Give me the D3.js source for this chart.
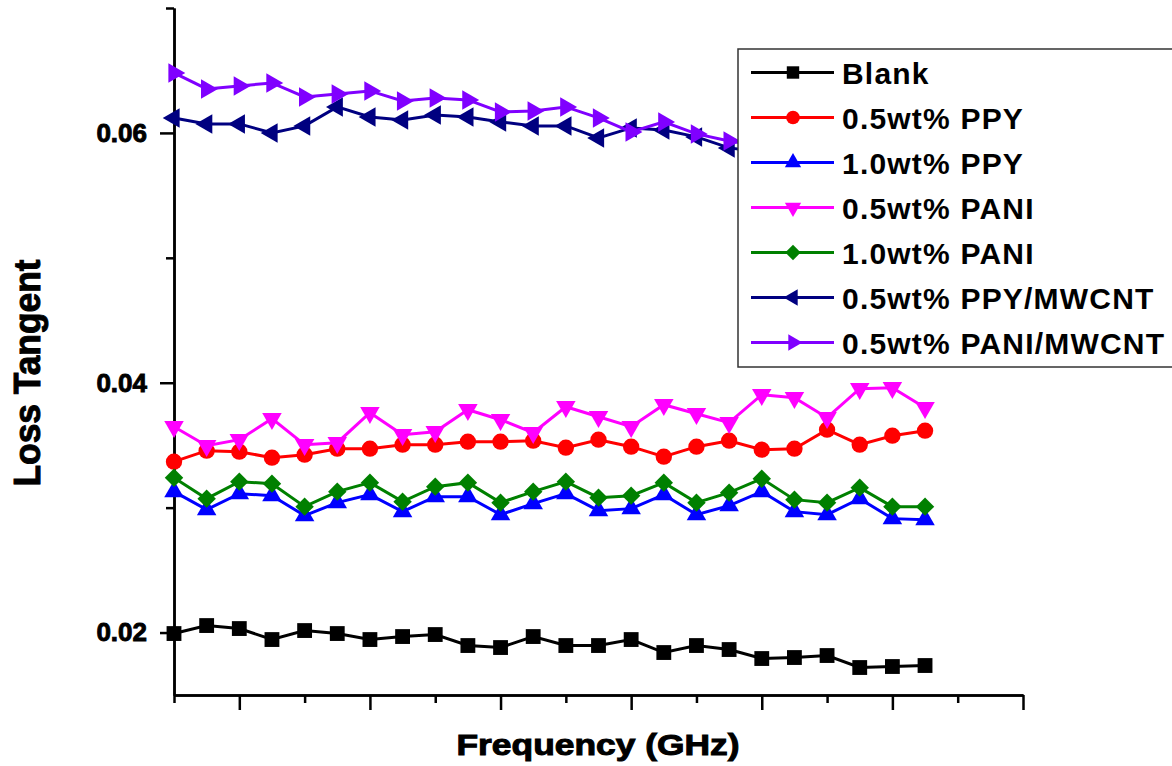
<!DOCTYPE html>
<html>
<head>
<meta charset="utf-8">
<script src="https://cdn.jsdelivr.net/npm/d3@7"></script>
<style>
  body { margin: 0; background: #fff; }
  text { font-family: 'Liberation Sans', Arial, sans-serif; font-weight: bold; }
</style>
</head>
<body>
<div id="chart"></div>
<script>
// frequency points (GHz, axis has no labels)
const freqs = [7.75, 7.875, 8.0, 8.125, 8.25, 8.375, 8.5, 8.625, 8.75, 8.875, 9.0, 9.125,
  9.25, 9.375, 9.5, 9.625, 9.75, 9.875, 10.0, 10.125, 10.25, 10.375, 10.5, 10.625]

const seriesNames = ['Blank', '0.5wt% PPY', '1.0wt% PPY', '0.5wt% PANI', '1.0wt% PANI',
  '0.5wt% PPY/MWCNT', '0.5wt% PANI/MWCNT']

const blank = [0.01992, 0.02056, 0.02032, 0.01944, 0.02016, 0.01992, 0.01944, 0.01968,
  0.01984, 0.01896, 0.0188, 0.01968, 0.01896, 0.01896, 0.01944, 0.0184, 0.01896, 0.01864,
  0.01792, 0.018, 0.01816, 0.0172, 0.01728, 0.01736]

const ppy05 = [0.03368, 0.03456, 0.03448, 0.034, 0.03424, 0.03472, 0.03472, 0.03504,
  0.03504, 0.03528, 0.03528, 0.03536, 0.0348, 0.03544, 0.03488, 0.03408, 0.03488, 0.03536,
  0.03464, 0.03472, 0.03624, 0.03504, 0.03576, 0.03616]

const ppy10 = [0.03128, 0.02984, 0.03112, 0.03096, 0.02936, 0.0304, 0.03104, 0.02968,
  0.03088, 0.03088, 0.02944, 0.03032, 0.03112, 0.02976, 0.02992, 0.03104, 0.02944, 0.03016,
  0.03128, 0.02968, 0.02944, 0.03072, 0.02912, 0.02904]

const pani05 = [0.03648, 0.03496, 0.03544, 0.03712, 0.03504, 0.0352, 0.0376, 0.03584,
  0.03608, 0.03784, 0.03704, 0.036, 0.03808, 0.03728, 0.03648, 0.03824, 0.03752, 0.0368,
  0.03904, 0.0388, 0.0372, 0.03952, 0.0396, 0.038]

const pani10 = [0.0324, 0.03072, 0.03208, 0.03192, 0.03008, 0.03128, 0.032, 0.03048,
  0.03168, 0.032, 0.0304, 0.03128, 0.03208, 0.0308, 0.03096, 0.032, 0.0304, 0.0312,
  0.03232, 0.03064, 0.0304, 0.0316, 0.03008, 0.03008]

// last points of the two MWCNT series sit behind the legend box
const ppyMwcnt = [0.0612, 0.06072, 0.06072, 0.06, 0.06056, 0.06208, 0.06128, 0.06104,
  0.06144, 0.06128, 0.06088, 0.06056, 0.06056, 0.0596, 0.0604, 0.06024, 0.05968, 0.0588,
  0.05848, 0.05824, 0.058, 0.05784, 0.05768, 0.05744]

const paniMwcnt = [0.0648, 0.06352, 0.06376, 0.064, 0.06288, 0.06312, 0.06336, 0.06256,
  0.0628, 0.06264, 0.06168, 0.06176, 0.06208, 0.0612, 0.06008, 0.06088, 0.05992, 0.05936,
  0.05896, 0.05864, 0.0584, 0.05816, 0.05792, 0.05768]

const yMajor = [0.02, 0.04, 0.06]
const yMinor = [0.03, 0.05, 0.07]
const xMajor = [8.0, 8.5, 9.0, 9.5, 10.0, 10.5, 11.0]
const xMinor = [7.75, 8.25, 8.75, 9.25, 9.75, 10.25, 10.75]

const allSeries = [blank, ppy05, ppy10, pani05, pani10, ppyMwcnt, paniMwcnt]
const colors = ['#000000', '#ff0000', '#0000ff', '#ff00ff', '#008000', '#000080', '#8000ff']
// symbol type, rotation, area
const markers = [
  { type: d3.symbolSquare, rot: 0, size: 220 },
  { type: d3.symbolCircle, rot: 0, size: 210 },
  { type: d3.symbolTriangle, rot: 0, size: 165 },
  { type: d3.symbolTriangle, rot: 180, size: 165 },
  { type: d3.symbolSquare, rot: 45, size: 170 },
  { type: d3.symbolTriangle, rot: -90, size: 165 },
  { type: d3.symbolTriangle, rot: 90, size: 165 }
]

const width = 1172
const height = 766

const svg = d3
  .select('#chart')
  .append('svg')
  .attr('width', width)
  .attr('height', height)

const xScale = d3.scaleLinear().domain([7.75, 11.0]).range([174, 1023])
const yScale = d3.scaleLinear().domain([0.015, 0.07]).range([695, 8])

// axes
function styleAxis(g) {
  g.select('.domain').attr('stroke', '#000').attr('stroke-width', 2.5)
  g.selectAll('.tick line').attr('stroke', '#000').attr('stroke-width', 2.5)
}

svg
  .append('g')
  .attr('transform', 'translate(0,695)')
  .call(d3.axisBottom(xScale).tickValues(xMinor).tickSize(8).tickSizeOuter(0).tickFormat(''))
  .call(styleAxis)

svg
  .append('g')
  .attr('transform', 'translate(0,695)')
  .call(d3.axisBottom(xScale).tickValues(xMajor).tickSize(15).tickSizeOuter(0).tickFormat(''))
  .call(styleAxis)

svg
  .append('g')
  .attr('transform', 'translate(174,0)')
  .call(d3.axisLeft(yScale).tickValues(yMinor).tickSize(8).tickSizeOuter(0).tickFormat(''))
  .call(styleAxis)

const yAxis = svg
  .append('g')
  .attr('transform', 'translate(174,0)')
  .call(d3.axisLeft(yScale).tickValues(yMajor).tickSize(14).tickSizeOuter(0).tickPadding(13).tickFormat(d3.format('.2f')))
  .call(styleAxis)

yAxis
  .selectAll('.tick text')
  .attr('fill', '#000')
  .attr('stroke', '#000')
  .attr('stroke-width', 0.9)
  .attr('font-size', 26)
  .attr('font-family', "'Liberation Sans', Arial, sans-serif")
  .attr('font-weight', 'bold')

// axis titles
svg
  .append('text')
  .text('Frequency (GHz)')
  .attr('x', 598)
  .attr('y', 755)
  .attr('text-anchor', 'middle')
  .attr('font-size', 30)
  .attr('stroke', '#000')
  .attr('stroke-width', 1)
  .attr('textLength', 283)
  .attr('lengthAdjust', 'spacingAndGlyphs')

svg
  .append('text')
  .text('Loss Tangent')
  .attr('transform', 'translate(40,373) rotate(-90)')
  .attr('text-anchor', 'middle')
  .attr('font-size', 37)
  .attr('stroke', '#000')
  .attr('stroke-width', 1)
  .attr('textLength', 227)
  .attr('lengthAdjust', 'spacingAndGlyphs')

// series
const line = d3
  .line()
  .x((d, i) => xScale(freqs[i]))
  .y(d => yScale(d))

allSeries.forEach(function(values, k) {
  const g = svg.append('g')

  g.append('path')
    .datum(values)
    .attr('d', line)
    .attr('fill', 'none')
    .attr('stroke', colors[k])
    .attr('stroke-width', 3)

  g.selectAll('path.marker')
    .data(values)
    .enter()
    .append('path')
    .attr('class', 'marker')
    .attr('d', d3.symbol().type(markers[k].type).size(markers[k].size))
    .attr('transform', function(d, i) {
      return `translate(${xScale(freqs[i])},${yScale(d)}) rotate(${markers[k].rot})`
    })
    .attr('fill', colors[k])
})

// legend
const legend = svg.append('g').attr('transform', 'translate(738,49)')

legend
  .append('rect')
  .attr('width', 450)
  .attr('height', 318)
  .attr('fill', '#fff')
  .attr('stroke', '#333')
  .attr('stroke-width', 1.5)

const rowScale = d3.scaleBand().domain(seriesNames).range([5, 320])

legend
  .selectAll('g.row')
  .data(seriesNames)
  .enter()
  .append('g')
  .attr('class', 'row')
  .each(function(d, k) {
    const g = d3.select(this)
    const cy = rowScale(d) + rowScale.bandwidth() / 2 - 4

    g.append('line')
      .attr('x1', 13)
      .attr('x2', 96)
      .attr('y1', cy)
      .attr('y2', cy)
      .attr('stroke', colors[k])
      .attr('stroke-width', 3)

    g.append('path')
      .attr('d', d3.symbol().type(markers[k].type).size(markers[k].size * 0.7))
      .attr('transform', `translate(55,${cy}) rotate(${markers[k].rot})`)
      .attr('fill', colors[k])

    g.append('text')
      .text(d)
      .attr('x', 104)
      .attr('y', cy + 11)
      .attr('font-size', 30)
      .attr('letter-spacing', 1.2)
      .attr('fill', '#000')
  })
</script>
</body>
</html>
